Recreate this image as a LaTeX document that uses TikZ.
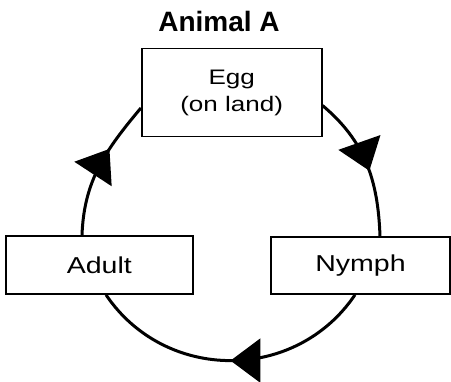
\documentclass[tikz,border=0pt]{standalone}
\usepackage{fontspec}
\setmainfont{Liberation Sans}
\newfontfamily\wideface{Liberation Sans}[FakeStretch=1.24]
\usetikzlibrary{arrows.meta,decorations.markings}

\tikzset{
  stage/.style={draw=black, line width=1.6pt, inner sep=0pt, align=center,
    font=\wideface\fontsize{23}{27}\selectfont},
  cycarrow/.style={postaction={decorate},
    decoration={markings, mark=at position #1 with {\arrow{Triangle[length=30pt,width=44pt]}}}},
}

\begin{document}
\begin{tikzpicture}[x=1pt,y=-1pt]
  \useasboundingbox (0,0) rectangle (451,382);
  \begin{scope}[every node/.style={stage}]
    \node[minimum width=180pt, minimum height=88pt,
      font=\wideface\fontsize{21}{27}\selectfont] (egg) at (231.7,92.5) {Egg\\(on land)};
    \node[minimum width=187pt, minimum height=58pt] (adult) at (99.3,265) {Adult};
    \node[minimum width=179pt, minimum height=57pt] (nymph) at (360.5,265.5) {Nymph};
  \end{scope}
  \node[font=\bfseries\fontsize{28}{34}\selectfont, anchor=base] (title) at (219,31.7) {Animal A};
  % life cycle, clockwise
  \begin{scope}[every edge/.style={draw=black, line width=3pt}]
    \path ([yshift=-13pt]egg.east) edge[cycarrow=0.55, out=-40, in=92] ([xshift=19.5pt]nymph.north);
    \path ([xshift=-5.5pt]nymph.south) edge[cycarrow=0.5, out=-124, in=-56, looseness=1.09] ([xshift=6.7pt]adult.south);
    \path ([xshift=-17.3pt]adult.north) edge[cycarrow=0.64, out=88, in=230] ([yshift=-15.5pt]egg.west);
  \end{scope}
\end{tikzpicture}
\end{document}
